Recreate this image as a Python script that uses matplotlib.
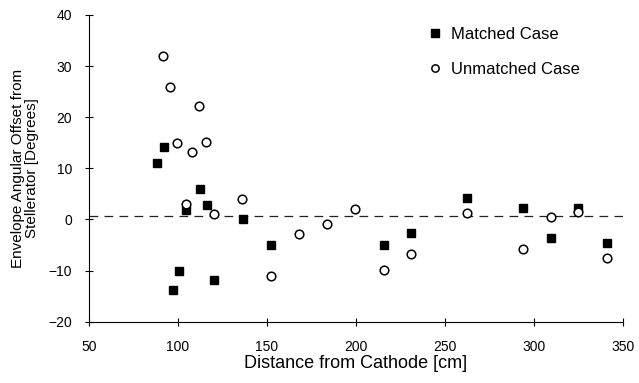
import numpy as np
import matplotlib
matplotlib.use("Agg")
import matplotlib.pyplot as plt

plt.rcParams['font.family'] = ['Liberation Sans', 'DejaVu Sans']

# matched case (filled squares)
matched_x = [88.5, 92.3, 112.6, 116.3, 104.3, 136.4, 100.6, 97.0, 120.5,
             152.4, 215.6, 231.0, 262.1, 293.9, 309.5, 324.9, 340.9]
matched_y = [11.1, 14.1, 6.0, 2.9, 1.9, 0.1, -10.1, -13.7, -11.9,
             -4.9, -4.9, -2.7, 4.2, 2.3, -3.7, 2.3, -4.6]

# unmatched case (open circles)
unmatched_x = [91.9, 95.7, 111.6, 99.8, 116.0, 108.1, 104.3, 120.5, 136.1,
               152.4, 168.0, 183.8, 199.6, 215.6, 231.1, 262.1, 293.9,
               309.5, 324.9, 340.9]
unmatched_y = [31.9, 26.0, 22.1, 15.0, 15.1, 13.1, 3.1, 1.0, 4.0,
               -11.0, -2.9, -0.8, 2.1, -9.8, -6.8, 1.2, -5.7,
               0.4, 1.4, -7.6]

ref_level = 0.7
x_ticks = [50, 100, 150, 200, 250, 300, 350]
y_ticks = [-20, -10, 0, 10, 20, 30, 40]

fig = plt.figure(figsize=(6.39, 3.83), dpi=100)
ax = fig.add_axes([0.139, 0.160, 0.836, 0.801])

ax.plot([50, 350], [ref_level, ref_level], color='#222222', lw=0.9,
        dashes=(7, 5), zorder=1)
ax.plot(matched_x, matched_y, linestyle='none', marker='s', ms=6.2,
        color='black', label='Matched Case', zorder=3)
ax.plot(unmatched_x, unmatched_y, linestyle='none', marker='o', ms=6.2,
        mfc='white', mec='black', mew=1.1, label='Unmatched Case', zorder=4)

ax.set_xlim(50, 350)
ax.set_ylim(-20, 40)
ax.set_xticks(x_ticks)
ax.set_yticks(y_ticks)
ax.spines['top'].set_visible(False)
ax.spines['right'].set_visible(False)
ax.tick_params(direction='inout', length=6, width=0.8, labelsize=10)
ax.tick_params(axis='x', pad=10)
ax.tick_params(axis='y', pad=9)

ax.set_xlabel('Distance from Cathode [cm]', fontsize=13, labelpad=1)
ax.set_ylabel('Envelope Angular Offset from\nStellerator [Degrees]',
              fontsize=11, labelpad=7, linespacing=1.0)

ax.legend(loc='upper left', bbox_to_anchor=(0.604, 1.01), frameon=False,
          fontsize=12, markerscale=0.85, handletextpad=0.5,
          labelspacing=1.2, handlelength=1.0)

fig.savefig('out.png', dpi=100)
